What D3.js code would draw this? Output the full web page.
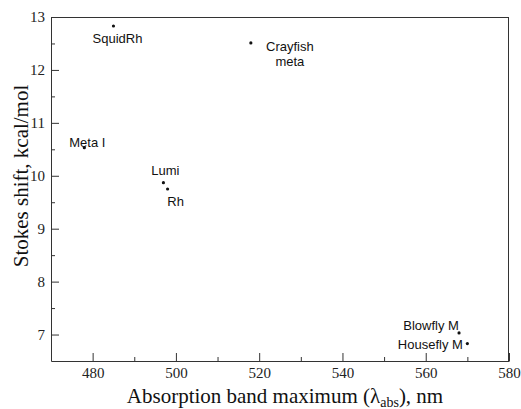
<!DOCTYPE html>
<html lang="en">
<head>
    <meta charset="UTF-8">
    <title>Stokes shift vs absorption maximum</title>
    <style>
        body { margin: 0; background: #fff; }
        .tick text { font-family: "Liberation Serif", serif; font-size: 15px; fill: #222; }
        .axis path, .axis line, .frame { stroke: #333; stroke-width: 1px; }
        .axisTitle { font-family: "Liberation Serif", serif; font-size: 21px; fill: #111; }
        .ptLabel { font-family: "Liberation Sans", Arial, sans-serif; font-size: 13px; fill: #111; }
    </style>
    <script src="https://d3js.org/d3.v7.min.js"></script>
</head>
<body>
<div class="container"></div>
<script>
    // data
    const names = ["SquidRh", "Crayfish meta", "Meta I", "Lumi", "Rh", "Blowfly M", "Housefly M"];
    const absMax = [485, 518, 478, 497, 498, 568, 570];
    const stokes = [12.83, 12.51, 10.53, 9.87, 9.75, 7.03, 6.83];
    const xTicks = [480, 500, 520, 540, 560, 580];
    const yTicks = [7, 8, 9, 10, 11, 12, 13];

    // where each label sits relative to its point (px)
    const labelOffsets = [[4, 17], [39, 8], [3, -1], [2, -8], [8, 17], [-28, -3], [-37, 5]];

    const width = 521, height = 409;
    const margin = {top: 17, right: 12, bottom: 48, left: 51};

    const svg = d3.select(".container").append("svg")
        .attr("width", width)
        .attr("height", height);

    const x = d3.scaleLinear().domain([470, 580]).range([margin.left, width - margin.right]);
    const y = d3.scaleLinear().domain([6.5, 13]).range([height - margin.bottom, margin.top]);

    const data = names.map((n, i) => ({name: n, x: absMax[i], y: stokes[i], off: labelOffsets[i]}));

    // minor ticks first (no labels)
    svg.append("g")
        .attr("class", "axis")
        .attr("transform", `translate(0,${height - margin.bottom})`)
        .call(d3.axisBottom(x).tickValues(d3.range(490, 580, 20)).tickSizeInner(-4).tickSizeOuter(0).tickFormat(""))
        .select(".domain").remove();
    svg.append("g")
        .attr("class", "axis")
        .attr("transform", `translate(${margin.left},0)`)
        .call(d3.axisLeft(y).tickValues(d3.range(7.5, 13, 1)).tickSizeInner(-4).tickSizeOuter(0).tickFormat(""))
        .select(".domain").remove();

    // major axes
    svg.append("g")
        .attr("class", "axis")
        .attr("transform", `translate(0,${height - margin.bottom})`)
        .call(d3.axisBottom(x).tickValues(xTicks).tickSizeInner(-8).tickSizeOuter(0).tickPadding(6).tickFormat(d3.format("d")));
    svg.append("g")
        .attr("class", "axis")
        .attr("transform", `translate(${margin.left},0)`)
        .call(d3.axisLeft(y).tickValues(yTicks).tickSizeInner(-8).tickSizeOuter(0).tickPadding(6).tickFormat(d3.format("d")));

    // top and right frame
    svg.append("line").attr("class", "frame")
        .attr("x1", margin.left).attr("x2", width - margin.right)
        .attr("y1", margin.top + 0.5).attr("y2", margin.top + 0.5);
    svg.append("line").attr("class", "frame")
        .attr("x1", width - margin.right - 0.5).attr("x2", width - margin.right - 0.5)
        .attr("y1", margin.top).attr("y2", height - margin.bottom);

    // points
    svg.selectAll("circle.pt")
        .data(data)
        .join("circle")
        .attr("class", "pt")
        .attr("cx", d => x(d.x))
        .attr("cy", d => y(d.y))
        .attr("r", 1.6)
        .attr("fill", "#111");

    // labels, split on space for the two-line one
    const lbl = svg.selectAll("text.ptLabel")
        .data(data)
        .join("text")
        .attr("class", "ptLabel")
        .attr("text-anchor", "middle")
        .attr("x", d => x(d.x) + d.off[0])
        .attr("y", d => y(d.y) + d.off[1]);
    lbl.each(function (d) {
        const t = d3.select(this);
        if (d.name === "Crayfish meta") {
            t.append("tspan").attr("x", x(d.x) + d.off[0]).text("Crayfish");
            t.append("tspan").attr("x", x(d.x) + d.off[0]).attr("dy", 15).text("meta");
        } else {
            t.text(d.name);
        }
    });

    // axis titles
    const xt = svg.append("text")
        .attr("class", "axisTitle")
        .attr("text-anchor", "middle")
        .attr("x", 285)
        .attr("y", 403);
    xt.append("tspan").text("Absorption band maximum (λ");
    xt.append("tspan").attr("font-size", "14px").attr("dy", 4).text("abs");
    xt.append("tspan").attr("dy", -4).text("), nm");

    svg.append("text")
        .attr("class", "axisTitle")
        .attr("text-anchor", "middle")
        .attr("transform", "translate(28,176) rotate(-90)")
        .text("Stokes shift, kcal/mol");
</script>
</body>
</html>
